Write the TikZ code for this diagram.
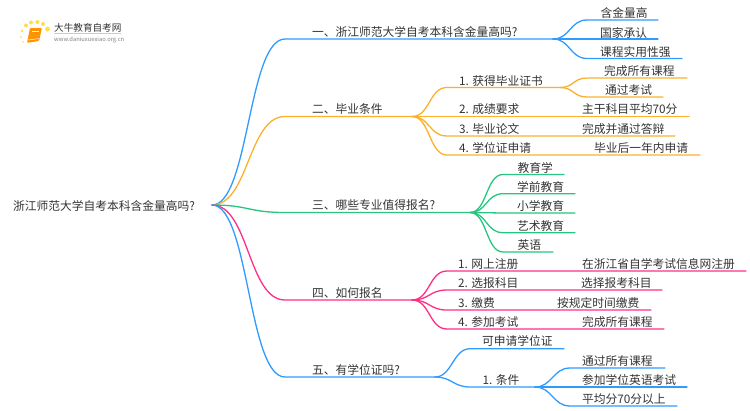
\documentclass[tikz,border=0pt]{standalone}
\usepackage{fontspec}
\setmainfont{Noto Sans CJK SC}
\definecolor{bblue}{HTML}{2F9BFF}
\definecolor{borange}{HTML}{FBB02C}
\definecolor{bgreen}{HTML}{27C581}
\definecolor{bpink}{HTML}{FF2E85}
\definecolor{ink}{HTML}{333333}
\tikzset{
  txt/.style={anchor=base west,inner sep=0pt,text=ink,font=\fontsize{11.75}{14}\selectfont},
  link/.style={line width=1.3pt,line cap=round},
  lblue/.style={link,draw=bblue},
  lorange/.style={link,draw=borange},
  lgreen/.style={link,draw=bgreen},
  lpink/.style={link,draw=bpink},
}
% curved link then straight run: style, dx, from, knee, end
\newcommand\lnk[5]{\draw[#1] (#3) .. controls +(#2,0) and +(-#2,0) .. (#4) -- (#5);}
% label: name, x, centre y, text
\newcommand\lab[4]{\node[txt] (#1) at (#2,#3+5.1) {#4};}
\newcommand\pt[3]{\coordinate (#1) at (#2,#3);}
\begin{document}
\begin{tikzpicture}[x=1pt,y=-1pt]
\useasboundingbox (0,0) rectangle (750,410);
% logo
\foreach \a/\b/\r in {26/25.5/2,31/22.5/2,37.5/22/2,43/24/2,47.5/29/2.4,22/31/1.3,21/37/1,23/42/.8}
  \fill[yellow!70!orange!70] (\a,\b) circle (\r);
\fill[orange!85!yellow,rounded corners=1pt] (30,28) -- (42,28) -- (39,41) -- (27,42.8) -- cycle;
\draw[white,line width=.5pt] (28.2,40) -- (39,38.6);
\draw[white,line width=.4pt] (32,31) -- (39,31);
\node[anchor=base west,inner sep=0pt,text=ink,font=\fontsize{9.6}{11}\selectfont] (logotitle) at (54,31.3) {大牛教育自考网};
\node[anchor=base west,inner sep=0pt,text=gray,font=\fontsize{5.8}{7}\selectfont] (logourl) at (54,41) {www.daniuxuexiao.org.cn};
\draw[black!20,line width=.5pt] (54,33.3) -- (121,33.3);
% root
\lab{root}{13}{205}{浙江师范大学自考本科含金量高吗?}
\pt{o}{212}{205}
% branch 1
\pt{a}{285}{39}\pt{aj}{553}{39}
\lnk{lblue}{37}{o}{a}{aj}
\lab{at}{312}{31}{一、浙江师范大学自考本科含金量高吗?}
\pt{a1}{587}{20}\pt{a1e}{658}{20}\lnk{lblue}{17}{aj}{a1}{a1e}\lab{a1t}{600.5}{12}{含金量高}
\pt{a2}{587}{39}\pt{a2e}{658}{39}\lnk{lblue}{17}{aj}{a2}{a2e}\lab{a2t}{600}{32}{国家承认}
\pt{a3}{587}{58.5}\pt{a3e}{682}{58.5}\lnk{lblue}{17}{aj}{a3}{a3e}\lab{a3t}{600}{51}{课程实用性强}
% branch 2
\pt{b}{285}{116.5}\pt{bj}{412}{116.5}
\lnk{lorange}{37}{o}{b}{bj}
\lab{bt}{312}{108}{二、毕业条件}
\pt{b1}{447}{87.5}\pt{b1j}{560}{87.5}\lnk{lorange}{18}{bj}{b1}{b1j}\lab{b1t}{459}{80}{1. 获得毕业证书}
\pt{b11}{587}{78}\pt{b11e}{687}{78}\lnk{lorange}{14}{b1j}{b11}{b11e}\lab{b11t}{604}{70}{完成所有课程}
\pt{b12}{587}{97}\pt{b12e}{663}{97}\lnk{lorange}{14}{b1j}{b12}{b12e}\lab{b12t}{605}{89}{通过考试}
\pt{b2}{447}{116.5}\pt{b2e}{689}{116.5}\lnk{lorange}{18}{bj}{b2}{b2e}\lab{b2t}{459}{108}{2. 成绩要求}\lab{b2r}{582}{108}{主干科目平均70分}
\pt{b3}{447}{136}\pt{b3e}{675}{136}\lnk{lorange}{18}{bj}{b3}{b3e}\lab{b3t}{459}{128}{3. 毕业论文}\lab{b3r}{582}{128}{完成并通过答辩}
\pt{b4}{447}{155}\pt{b4e}{700}{155}\lnk{lorange}{18}{bj}{b4}{b4e}\lab{b4t}{459}{147}{4. 学位证申请}\lab{b4r}{594}{147}{毕业后一年内申请}
% branch 3
\pt{c}{285}{212.5}\pt{cj}{470}{212.5}
\lnk{lgreen}{37}{o}{c}{cj}
\lab{ct}{312}{204}{三、哪些专业值得报名?}
\pt{c1}{503}{174.5}\pt{c1e}{564}{174.5}\lnk{lgreen}{17}{cj}{c1}{c1e}\lab{c1t}{517.5}{167}{教育学}
\pt{c2}{503}{193.7}\pt{c2e}{575}{193.7}\lnk{lgreen}{17}{cj}{c2}{c2e}\lab{c2t}{517}{186}{学前教育}
\pt{c3}{503}{213}\pt{c3e}{575}{213}\lnk{lgreen}{17}{cj}{c3}{c3e}\lab{c3t}{517}{205}{小学教育}
\pt{c4}{503}{232.7}\pt{c4e}{575}{232.7}\lnk{lgreen}{17}{cj}{c4}{c4e}\lab{c4t}{517}{225}{艺术教育}
\pt{c5}{503}{252}\pt{c5e}{553}{252}\lnk{lgreen}{17}{cj}{c5}{c5e}\lab{c5t}{517.5}{244}{英语}
% branch 4
\pt{d}{285}{300}\pt{dj}{412}{300}
\lnk{lpink}{37}{o}{d}{dj}
\lab{dt}{312}{292}{四、如何报名}
\pt{d1}{447}{271}\pt{d1e}{746}{271}\lnk{lpink}{18}{dj}{d1}{d1e}\lab{d1t}{458}{263}{1. 网上注册}\lab{d1r}{582}{263}{在浙江省自学考试信息网注册}
\pt{d2}{447}{290}\pt{d2e}{662}{290}\lnk{lpink}{18}{dj}{d2}{d2e}\lab{d2t}{458}{282}{2. 选报科目}\lab{d2r}{581}{282}{选择报考科目}
\pt{d3}{447}{310}\pt{d3e}{651}{310}\lnk{lpink}{18}{dj}{d3}{d3e}\lab{d3t}{458}{302}{3. 缴费}\lab{d3r}{557}{302}{按规定时间缴费}
\pt{d4}{447}{329}\pt{d4e}{664}{329}\lnk{lpink}{18}{dj}{d4}{d4e}\lab{d4t}{458}{321}{4. 参加考试}\lab{d4r}{582}{321}{完成所有课程}
% branch 5
\pt{e}{285}{377}\pt{ej}{435}{377}
\lnk{lblue}{37}{o}{e}{ej}
\lab{et}{312}{369}{五、有学位证吗?}
\pt{e1}{470}{348.7}\pt{e1e}{564}{348.7}\lnk{lblue}{17}{ej}{e1}{e1e}\lab{e1t}{482}{340}{可申请学位证}
\pt{e2}{470}{387}\pt{e2j}{535}{387}\lnk{lblue}{17}{ej}{e2}{e2j}\lab{e2t}{482.5}{379}{1. 条件}
\pt{e21}{570}{368}\pt{e21e}{665}{368}\lnk{lblue}{17}{e2j}{e21}{e21e}\lab{e21t}{582}{360}{通过所有课程}
\pt{e22}{570}{387}\pt{e22e}{687}{387}\lnk{lblue}{17}{e2j}{e22}{e22e}\lab{e22t}{582}{379}{参加学位英语考试}
\pt{e23}{570}{406}\pt{e23e}{677}{406}\lnk{lblue}{17}{e2j}{e23}{e23e}\lab{e23t}{582}{398}{平均分70分以上}
\end{tikzpicture}
\end{document}
